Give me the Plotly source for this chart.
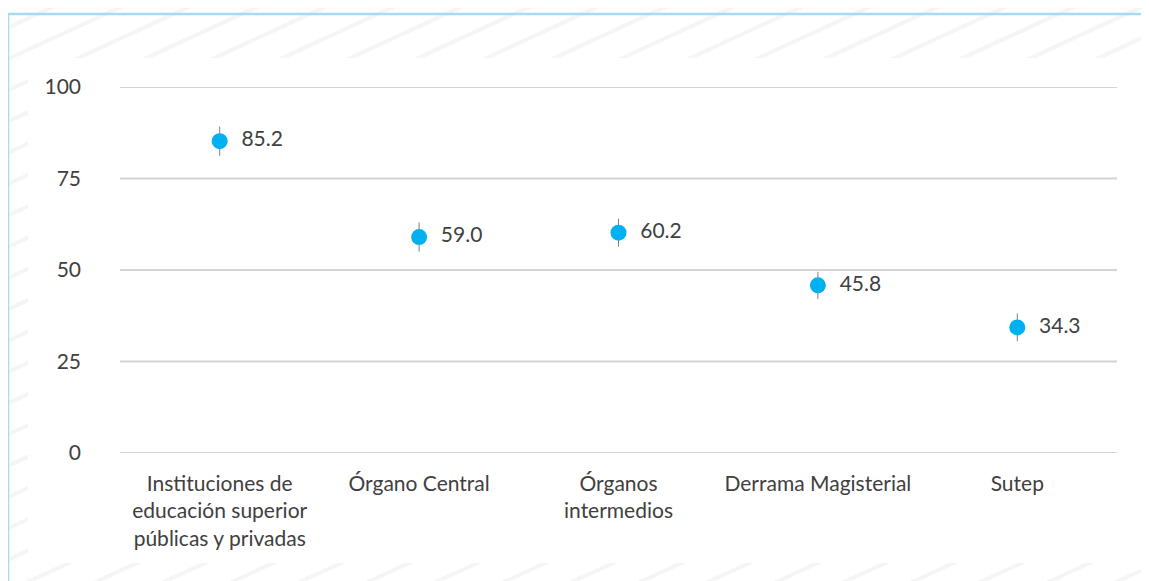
import plotly.graph_objects as go

categories = [
    "Instituciones de<br>educación superior<br>públicas y privadas",
    "Órgano Central",
    "Órganos<br>intermedios",
    "Derrama Magisterial",
    "Sutep",
]
values = [85.2, 59.0, 60.2, 45.8, 34.3]
errors = [4.0, 4.0, 3.8, 3.7, 3.8]
y_ticks = [0, 25, 50, 75, 100]

FONT = "Lato"
TXT = "#404040"
FS = 21

# the page body adds an 8px offset, so target pixel coords are shifted
OFF = 8
W, H = 1149, 581
L, R, T, B = 120 - OFF, 1117 - OFF, 87 - OFF, 453 - OFF


def px(X):
    return (X - OFF - L) / (R - L)


def py(Y):
    return (B - (Y - OFF)) / (B - T)


fig = go.Figure()
fig.add_trace(go.Scatter(
    x=categories, y=values, mode="markers+text",
    marker=dict(color="#00b0f0", size=16),
    error_y=dict(type="data", array=errors, visible=True,
                 color="#7f7f7f", thickness=1, width=0),
    text=["\u00a0\u00a0" + f"{v:.1f}" for v in values],
    textposition="middle right",
    textfont=dict(family=FONT, size=FS, color=TXT),
    cliponaxis=False, showlegend=False,
))

# diagonal faint stripes
segs = []
slope = 0.46
step = 31.3
k = 0
while True:
    c = k * step
    if c > 600 + slope * 1160 + 10:
        break
    y0 = c
    y1 = c - slope * 1160
    segs.append(f"M{px(0):.5f},{py(y0):.5f} L{px(1160):.5f},{py(y1):.5f}")
    k += 1

shapes = [
    dict(type="path", xref="paper", yref="paper", path=" ".join(segs),
         line=dict(color="#f5f5f5", width=4), layer="below"),
    dict(type="rect", xref="paper", yref="paper",
         x0=px(28), x1=px(1145), y0=py(563), y1=py(58),
         fillcolor="white", line=dict(width=0), layer="below"),
    dict(type="line", xref="paper", yref="paper",
         x0=px(7), x1=px(1165), y0=py(14), y1=py(14),
         line=dict(color="#a6dcf2", width=2.5), layer="below"),
    dict(type="line", xref="paper", yref="paper",
         x0=px(8), x1=px(8), y0=py(13), y1=py(600),
         line=dict(color="#a6dcf2", width=2.5), layer="below"),
]
# horizontal gridlines at every y tick (including the range ends)
for t in y_ticks:
    shapes.append(dict(type="line", xref="paper", yref="y",
                       x0=0, x1=1, y0=t, y1=t,
                       line=dict(color="#d4d4d4", width=2), layer="below"))

fig.update_layout(
    width=W, height=H,
    margin=dict(l=L, r=W - R, t=T, b=H - B),
    paper_bgcolor="white", plot_bgcolor="rgba(0,0,0,0)",
    font=dict(family=FONT, size=FS, color=TXT),
    shapes=shapes,
    xaxis=dict(showgrid=False, zeroline=False, showline=False, ticks="",
               tickfont=dict(family=FONT, size=FS, color=TXT),
               ticklabelstandoff=16, range=[-0.5, 4.5]),
    yaxis=dict(range=[0, 100], tickvals=y_ticks, showgrid=False,
               zeroline=False, showline=False, ticks="",
               tickfont=dict(family=FONT, size=FS, color=TXT),
               ticklabelstandoff=38),
)

fig.write_html("out.html")
